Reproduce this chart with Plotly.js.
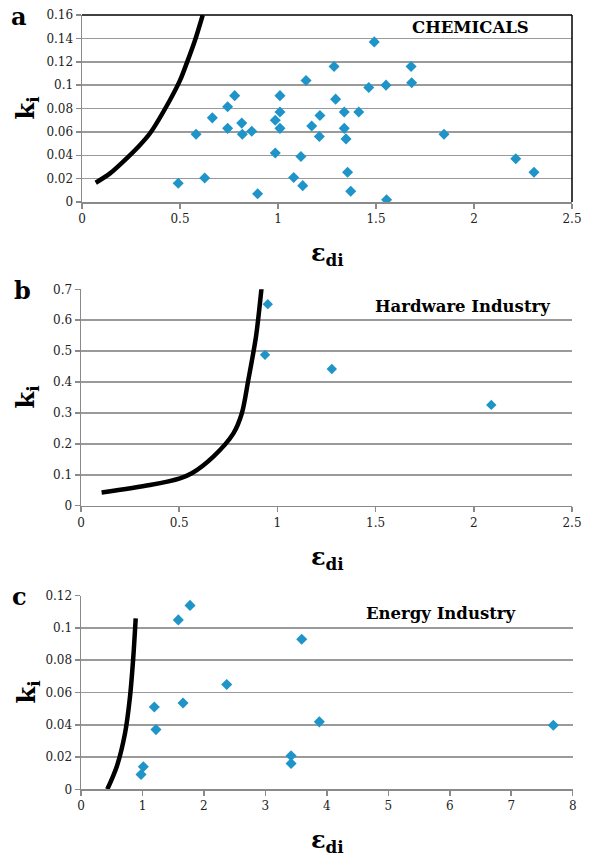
<!DOCTYPE html>
<html><head><meta charset="utf-8">
<script src="https://cdn.plot.ly/plotly-3.0.1.min.js"></script>
<style>html,body{margin:0;padding:0;background:#fff}#chart{width:592px;height:856px}</style>
</head><body><div id="chart"></div>
<script>
// Panel a: CHEMICALS
const chemX = [0.491,0.582,0.626,0.665,0.743,0.779,0.743,0.815,0.818,0.866,0.896,0.986,0.986,1.010,1.010,1.010,1.080,
  1.491,1.286,1.679,1.143,1.682,1.463,1.551,1.294,1.214,1.338,1.412,1.172,1.338,1.211,1.347,1.847,1.117,2.213,2.306,1.355,1.126,1.371,1.554];
const chemY = [0.016,0.058,0.0205,0.072,0.0815,0.091,0.063,0.0675,0.058,0.0605,0.007,0.042,0.070,0.091,0.077,0.063,0.021,
  0.137,0.116,0.116,0.104,0.102,0.098,0.100,0.088,0.074,0.077,0.077,0.065,0.063,0.056,0.054,0.058,0.039,0.037,0.0254,0.0254,0.014,0.0092,0.002];
const chemCurveX = [0.070,0.143,0.228,0.296,0.347,0.449,0.500,0.534,0.577,0.616];
const chemCurveY = [0.0165,0.0245,0.0374,0.0488,0.0588,0.0873,0.104,0.1186,0.1386,0.160];

// Panel b: Hardware Industry
const hwX = [0.951,0.937,1.277,2.089];
const hwY = [0.652,0.488,0.442,0.326];
const hwCurveX = [0.105,0.351,0.504,0.564,0.674,0.776,0.819,0.852,0.891,0.920];
const hwCurveY = [0.043,0.067,0.0887,0.105,0.159,0.234,0.299,0.407,0.547,0.709];

// Panel c: Energy Industry
const enX = [0.977,1.014,1.193,1.220,1.583,1.774,1.660,2.371,3.418,3.418,3.591,3.878,7.685];
const enY = [0.0092,0.014,0.051,0.037,0.105,0.114,0.0535,0.065,0.0208,0.016,0.093,0.0418,0.0397];
const enCurveX = [0.428,0.581,0.716,0.797,0.851,0.890];
const enCurveY = [0.000,0.014,0.0347,0.0574,0.082,0.106];

const panelTitles = ['CHEMICALS','Hardware Industry','Energy Industry'];
const panelLetters = ['a','b','c'];

const W = 592, H = 856;
const FONT = 'DejaVu Serif';
const dotColor = '#1f94c9';

function px(x){return x/W;}
function py(y){return 1 - y/H;}

// plot areas in pixels [left,right,top,bottom]
const boxes = [[82,572,15,202],[81,572,289.3,505.7],[81,572.7,595.7,789.3]];

const traces = [];
function add(i, sx, sy, cx, cy, msize){
  const xa = i===0?'x':'x'+(i+1), ya = i===0?'y':'y'+(i+1);
  traces.push({x:cx,y:cy,xaxis:xa,yaxis:ya,mode:'lines',type:'scatter',
    line:{color:'#000',width:4.5,shape:'spline',smoothing:0.8},hoverinfo:'skip',showlegend:false});
  traces.push({x:sx,y:sy,xaxis:xa,yaxis:ya,mode:'markers',type:'scatter',
    marker:{symbol:'diamond',size:msize,color:dotColor,line:{width:0}},showlegend:false});
}
add(0, chemX, chemY, chemCurveX, chemCurveY, 8.5);
add(1, hwX, hwY, hwCurveX, hwCurveY, 8);
add(2, enX, enY, enCurveX, enCurveY, 8.5);

const layout = {
  width:W, height:H, margin:{l:0,r:0,t:0,b:0},
  paper_bgcolor:'#fff', plot_bgcolor:'#fff', showlegend:false,
  font:{family:FONT, size:12, color:'#222'},
  annotations:[], shapes:[]
};
const xr = [[0,2.5],[0,2.5],[0,8]], xd=[0.5,0.5,1];
const yr = [[0,0.16],[0,0.7],[0,0.12]], yd=[0.02,0.1,0.02];
const titlePos = [[470,28],[462,306.7],[440,613]];
for(let i=0;i<3;i++){
  const b = boxes[i];
  const sfx = i===0?'':String(i+1);
  layout['xaxis'+sfx] = {domain:[px(b[0]),px(b[1])], range:xr[i], dtick:xd[i], tick0:0,
    anchor:'y'+sfx, showgrid:false, zeroline:false, showline:true, linecolor:'#8a8a8a', linewidth:1.5,
    ticks:'outside', ticklen:5, tickwidth:1.5, tickcolor:'#8a8a8a', tickfont:{family:FONT,size:12,color:'#222'}, fixedrange:true};
  layout['yaxis'+sfx] = {domain:[py(b[3]),py(b[2])], range:yr[i], dtick:yd[i], tick0:0,
    anchor:'x'+sfx, showgrid:true, gridcolor:'#9a9a9a', gridwidth:1.5, zeroline:false, showline:true, linecolor:'#8a8a8a', linewidth:1.5,
    ticks:'outside', ticklen:5, tickwidth:1.5, tickcolor:'#8a8a8a', tickfont:{family:FONT,size:12,color:'#222'}, fixedrange:true};
  const cy = (b[2]+b[3])/2;
  layout.annotations.push({xref:'paper',yref:'paper',x:px(27),y:py(cy),text:'<b>k<sub>i</sub></b>',showarrow:false,
    textangle:-90,font:{family:FONT,size:24,color:'#000'},xanchor:'center',yanchor:'middle'});
  layout.annotations.push({xref:'paper',yref:'paper',x:px(327),y:py(b[3]+52),text:'<b>ε<sub>di</sub></b>',showarrow:false,
    font:{family:FONT,size:24,color:'#000'},xanchor:'center',yanchor:'middle'});
  layout.annotations.push({xref:'paper',yref:'paper',x:px(i===1?22:19),y:py(b[2]+1),text:'<b>'+panelLetters[i]+'</b>',showarrow:false,
    font:{family:FONT,size:24,color:'#000'},xanchor:'center',yanchor:'middle'});
  layout.annotations.push({xref:'paper',yref:'paper',x:px(titlePos[i][0]),y:py(titlePos[i][1]),text:'<b>'+panelTitles[i]+'</b>',showarrow:false,
    font:{family:FONT,size:16.5,color:'#000'},xanchor:'center',yanchor:'middle'});
}
// panel a frame: top and right borders black
layout.shapes.push({type:'line',xref:'x domain',yref:'y domain',x0:0,x1:1,y0:1,y1:1,line:{color:'#000',width:1.5}});
layout.shapes.push({type:'line',xref:'x domain',yref:'y domain',x0:1,x1:1,y0:0,y1:1,line:{color:'#000',width:1.5}});

Plotly.newPlot('chart', traces, layout, {staticPlot:true});
</script></body></html>
